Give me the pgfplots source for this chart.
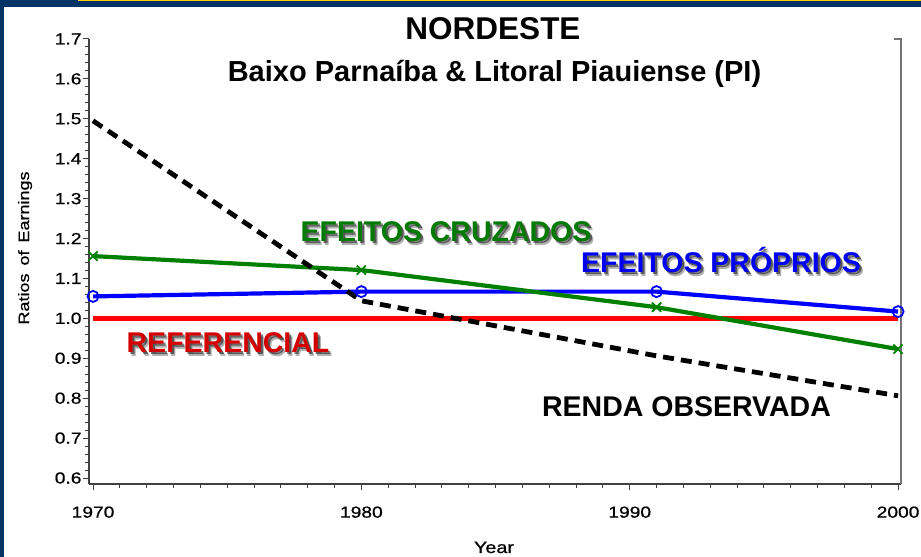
\documentclass[border=0pt]{standalone}
\usepackage{fontspec}
\setmainfont{Liberation Sans}
\newfontfamily\tickfont[FakeStretch=1.2, FakeBold=0.6]{Liberation Sans}
\usepackage{pgfplots}
\pgfplotsset{compat=1.18}
\definecolor{frameblue}{HTML}{003366}
\definecolor{frameyellow}{HTML}{FFCC00}
\definecolor{sasgreen}{HTML}{008000}
\definecolor{labgreen}{HTML}{007A00}
\definecolor{labred}{HTML}{D40000}
\definecolor{labblue}{HTML}{0000F0}
\newcommand{\labfont}{\fontsize{28.5bp}{30bp}\selectfont\bfseries}
\newcommand{\shadowtext}[4]{%
  \node[anchor=base, inner sep=0, text=black, opacity=0.3, font=\labfont] at (#1+3.2,#2-3.2) {#4};
  \node[anchor=base, inner sep=0, text=black, opacity=0.5, font=\labfont] at (#1+2,#2-2) {#4};
  \node[anchor=base, inner sep=0, text=#3, font=\labfont] at (#1,#2) {#4};}
\begin{document}
\begin{tikzpicture}[x=1bp,y=1bp]
\useasboundingbox (0,0) rectangle (921,557);
\fill[white] (0,0) rectangle (921,557);
\fill[frameblue] (0,0) rectangle (4,557);
\fill[frameblue] (0,550) rectangle (921,557);
\fill[frameyellow] (78,555.8) rectangle (921,557);
\begin{axis}[
  at={(89bp,73bp)}, anchor=south west,
  scale only axis, width=812bp, height=445bp,
  xmin=1969.85, xmax=2000.11, ymin=0.585, ymax=1.7,
  axis x line*=bottom, axis y line*=left,
  axis line style={black!75, line width=1.2bp, -},
  xtick={1970,1980,1990,2000}, minor x tick num=9,
  ytick={0.6,0.7,0.8,0.9,1.0,1.1,1.2,1.3,1.4,1.5,1.6,1.7}, minor y tick num=4,
  tick align=outside, major tick length=6bp, minor tick length=4bp,
  tick style={black!75, line width=1bp},
  /pgf/number format/assume math mode=true,
  x tick label style={/pgf/number format/1000 sep={}, yshift=-13bp},
  y tick label style={/pgf/number format/fixed, /pgf/number format/fixed zerofill, /pgf/number format/precision=1, xshift=2bp},
  tick label style={font=\tickfont\fontsize{16bp}{16bp}\selectfont},
  clip=false,
]
\addplot[red, line width=4.5bp] coordinates {(1970,1.0) (2000,1.0)};
\addplot[blue, line width=4.2bp, mark=o, mark size=5.5bp, mark options={line width=1.8bp, solid}]
  coordinates {(1970,1.055) (1980,1.067) (1991,1.067) (2000,1.017)};
\addplot[sasgreen, line width=4.2bp, mark=x, mark size=6.5bp, mark options={line width=1.8bp, solid}]
  coordinates {(1970,1.156) (1980,1.121) (1991,1.028) (2000,0.923)};
\addplot[black, line width=4.8bp, dash pattern=on 11bp off 7bp]
  coordinates {(1970,1.495) (1980,1.044) (1991,0.906) (2000,0.806)};
\draw[black!55, line width=1.2bp] (rel axis cs:1,0) -- (rel axis cs:1,1) -- ++(-7bp,0pt);
\end{axis}
\node[anchor=base, inner sep=0, font=\fontsize{31.5bp}{32bp}\selectfont\bfseries] at (493,517) {NORDESTE};
\node[anchor=base, inner sep=0, font=\fontsize{29bp}{30bp}\selectfont\bfseries] at (494.5,475) {Baixo Parnaíba \& Litoral Piauiense (PI)};
\shadowtext{446}{315}{labgreen}{EFEITOS CRUZADOS}
\shadowtext{721}{284}{labblue}{EFEITOS PRÓPRIOS}
\shadowtext{228}{204}{labred}{REFERENCIAL}
\node[anchor=base, inner sep=0, font=\labfont] at (686.5,140) {RENDA OBSERVADA};
\node[anchor=base, inner sep=0, font=\tickfont\fontsize{16.5bp}{17bp}\selectfont] at (494,4) {Year};
\node[anchor=base, inner sep=0, rotate=90, font=\tickfont\fontsize{15bp}{16bp}\selectfont] at (29,309) {Ratios\hspace{0.2em} of\hspace{0.2em} Earnings};
\end{tikzpicture}
\end{document}
